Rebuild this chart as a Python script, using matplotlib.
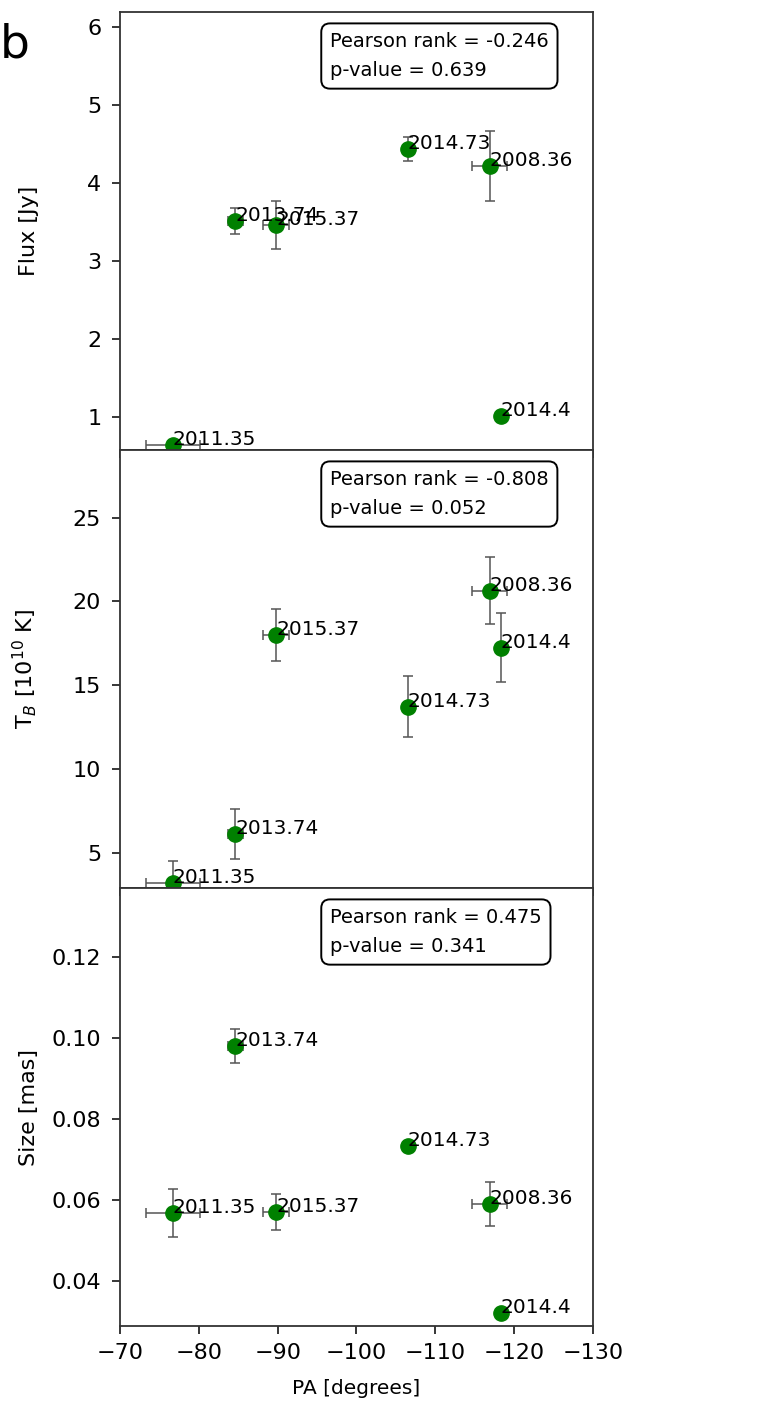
import matplotlib

matplotlib.use("Agg")
import matplotlib.pyplot as plt

plt.rcParams["font.family"] = "DejaVu Sans"
plt.rcParams["font.size"] = 14

# epochs and position angle of the component
epochs = ["2008.36", "2011.35", "2013.74", "2014.4", "2014.73", "2015.37"]
pa = [-116.9, -76.7, -84.6, -118.3, -106.5, -89.8]
pa_err = [2.2, 3.45, 0.95, 0.3, 0.3, 1.65]

flux = [4.22, 0.636, 3.515, 1.01, 4.43, 3.46]
flux_err = [0.45, 0.05, 0.165, 0.03, 0.156, 0.31]

tb = [20.65, 3.18, 6.11, 17.24, 13.73, 18.0]
tb_err = [2.0, 1.35, 1.49, 2.05, 1.83, 1.58]

size = [0.0590, 0.0568, 0.0980, 0.0322, 0.0734, 0.0571]
size_err = [0.0054, 0.0059, 0.0041, 0.0004, 0.0010, 0.0044]

pearson_r = [-0.246, -0.808, 0.475]
p_values = [0.639, 0.052, 0.341]

ylabels = ["Flux [Jy]", r"T$_B$ [10$^{10}$ K]", "Size [mas]"]
ylims = [(0.576, 6.19), (2.90, 29.04), (0.0289, 0.137)]
yticks = [[1, 2, 3, 4, 5, 6], [5, 10, 15, 20, 25], [0.04, 0.06, 0.08, 0.10, 0.12]]


def main():
    fig = plt.figure(figsize=(7.61, 14.04), dpi=100)
    left, width = 120 / 761, 473 / 761
    panel_h = 438 / 1404
    bottom0 = 1 - 1326 / 1404

    axes = []
    for i in range(3):
        b = bottom0 + (2 - i) * panel_h
        ax = fig.add_axes([left, b, width, panel_h], sharex=axes[0] if axes else None)
        axes.append(ax)

    series = [(flux, flux_err), (tb, tb_err), (size, size_err)]
    for i, (ax, (vals, errs)) in enumerate(zip(axes, series)):
        ax.errorbar(pa, vals, xerr=pa_err, yerr=errs, fmt="o", color="green",
                    ms=11, ecolor="#555555", elinewidth=1.1, capsize=3.5,
                    capthick=1.1)
        for x, y, lab in zip(pa, vals, epochs):
            ax.text(x, y, lab, fontsize=14.5, ha="left", va="baseline")
        ax.set_ylim(*ylims[i])
        ax.set_yticks(yticks[i])
        if i == 2:
            ax.set_yticklabels([f"{t:.2f}" for t in yticks[i]])
        ax.set_ylabel(ylabels[i], fontsize=16)
        ax.yaxis.set_label_coords(-0.172, 0.5)
        ax.tick_params(labelsize=16, length=5.5, width=1.1, pad=4.5)
        ax.tick_params(axis="y", pad=8)
        for sp in ax.spines.values():
            sp.set_linewidth(1.3)
            sp.set_edgecolor("#333333")
        ax.text(0.444, 0.954,
                f"Pearson rank = {pearson_r[i]}\np-value = {p_values[i]}",
                transform=ax.transAxes, ha="left", va="top", fontsize=14,
                linespacing=1.65,
                bbox=dict(boxstyle="round,pad=0.45", facecolor="white",
                          edgecolor="black", linewidth=1.4))
        if i < 2:
            ax.tick_params(labelbottom=False)

    axes[0].set_xlim(-70, -130)
    axes[0].set_xticks([-70, -80, -90, -100, -110, -120, -130])
    axes[2].tick_params(axis="x", pad=7)
    axes[2].set_xlabel("PA [degrees]", fontsize=14.5, labelpad=11)

    fig.text(0.0, 1 - 57 / 1404, "b", fontsize=34, ha="left", va="baseline")

    fig.savefig("out.png", dpi=100)


if __name__ == "__main__":
    main()
